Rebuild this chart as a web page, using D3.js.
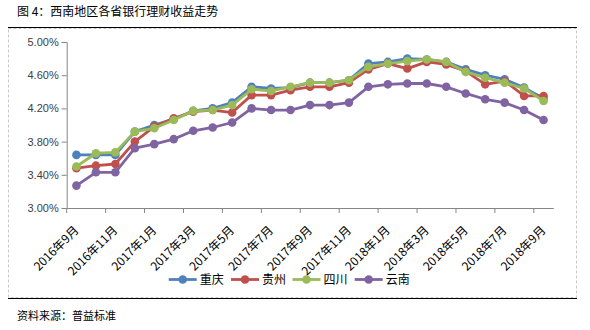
<!DOCTYPE html>
<html><head><meta charset="utf-8">
<script src="https://cdn.jsdelivr.net/npm/d3@7/dist/d3.min.js"></script>
<style>body{margin:0;background:#fff}svg{display:block}</style>
</head><body><svg id="c" width="590" height="330"></svg>
<script>
const months = ["2016年9月","2016年10月","2016年11月","2016年12月","2017年1月","2017年2月","2017年3月","2017年4月","2017年5月","2017年6月","2017年7月","2017年8月","2017年9月","2017年10月","2017年11月","2017年12月","2018年1月","2018年2月","2018年3月","2018年4月","2018年5月","2018年6月","2018年7月","2018年8月","2018年9月"];
const chongqing = [3.64,3.64,3.64,3.92,4.00,4.07,4.17,4.20,4.27,4.46,4.44,4.45,4.51,4.51,4.54,4.74,4.76,4.80,4.79,4.76,4.67,4.60,4.55,4.45,4.32];
const guizhou   = [3.48,3.51,3.53,3.80,3.98,4.08,4.16,4.18,4.15,4.36,4.36,4.42,4.46,4.46,4.51,4.67,4.74,4.68,4.76,4.73,4.65,4.49,4.53,4.35,4.35];
const sichuan   = [3.50,3.66,3.67,3.92,3.96,4.06,4.17,4.18,4.24,4.43,4.41,4.46,4.51,4.51,4.54,4.70,4.74,4.77,4.79,4.76,4.64,4.57,4.51,4.44,4.29];
const yunnan    = [3.27,3.43,3.43,3.72,3.77,3.83,3.93,3.97,4.03,4.20,4.18,4.18,4.24,4.24,4.27,4.46,4.49,4.50,4.50,4.46,4.38,4.31,4.27,4.18,4.06];
const seriesNames = ["重庆","贵州","四川","云南"];
const yTicks = [3.00,3.40,3.80,4.20,4.60,5.00];

const colors = ["#4F81BD","#C0504D","#9BBB59","#8064A2"];
const series = [chongqing, guizhou, sichuan, yunnan];
const svg = d3.select("#c");
const cjk = "'Noto Sans CJK SC', sans-serif";
const num = "'Liberation Sans', Arial, sans-serif";

// title
svg.append("text").attr("x",17).attr("y",16).attr("font-family",cjk).attr("font-size",12).attr("fill","#000").text("图 4：西南地区各省银行理财收益走势");
svg.append("line").attr("x1",8).attr("x2",577).attr("y1",27.5).attr("y2",27.5).attr("stroke","#000").attr("stroke-width",1.2);
// chart border (dashed)
svg.append("rect").attr("x",8.5).attr("y",28.5).attr("width",568).attr("height",269).attr("fill","none").attr("stroke","#c8c8c8").attr("stroke-dasharray","3,2");
svg.append("line").attr("x1",8).attr("x2",577).attr("y1",298.5).attr("y2",298.5).attr("stroke","#000").attr("stroke-width",1.2);
// source
svg.append("text").attr("x",17).attr("y",320).attr("font-family",cjk).attr("font-size",11).attr("fill","#000").text("资料来源：普益标准");

const mLeft = 66.7, mRight = 553.3, mTop = 42, mBottom = 208;
const x = d3.scaleBand().domain(months).range([mLeft, mRight]).padding(0);
const y = d3.scaleLinear().domain([3.0, 5.0]).range([mBottom, mTop]);

// y axis
const ya = svg.append("g").attr("transform",`translate(${mLeft},0)`)
  .call(d3.axisLeft(y).tickValues(yTicks).tickSize(5).tickPadding(3).tickFormat(d => d.toFixed(2)+"%"));
ya.select(".domain").attr("stroke","#868686");
ya.selectAll(".tick line").attr("stroke","#868686");
ya.selectAll("text").attr("font-family",num).attr("font-size",11).attr("fill","#404040");

// x axis
const xa = svg.append("g").attr("transform",`translate(0,${mBottom})`)
  .call(d3.axisBottom(x).tickSize(0).tickFormat(""));
xa.select(".domain").attr("stroke","#868686");
xa.selectAll(".tick").remove();
const tickCats = months.filter((d,i) => i % 2 === 0);
svg.append("g").selectAll("line").data(tickCats).join("line")
  .attr("x1", d => x(d)).attr("x2", d => x(d))
  .attr("y1", mBottom).attr("y2", mBottom + 5).attr("stroke","#868686");
svg.append("g").selectAll("text").data(tickCats).join("text")
  .attr("transform", d => `translate(${x(d) + x.bandwidth()/2},${mBottom + 20}) rotate(-45)`)
  .attr("text-anchor","end").attr("dy","0.35em")
  .attr("font-family",cjk).attr("font-size",12).attr("fill","#000").text(d => d);

// series
const line = d3.line().x((d,i) => x(months[i]) + x.bandwidth()/2).y(d => y(d));
series.forEach((s, k) => {
  const g = svg.append("g");
  g.append("path").datum(s).attr("d", line).attr("fill","none").attr("stroke",colors[k]).attr("stroke-width",2.8).attr("stroke-linejoin","round");
  g.selectAll("circle").data(s).join("circle")
    .attr("cx",(d,i) => x(months[i]) + x.bandwidth()/2).attr("cy", d => y(d)).attr("r",4.3).attr("fill",colors[k]);
});

// legend
const legX = [168.7, 231, 292.5, 354.7];
const lg = svg.append("g");
seriesNames.forEach((n,k) => {
  const lx = legX[k], ly = 279.5;
  lg.append("line").attr("x1",lx).attr("x2",lx+28).attr("y1",ly).attr("y2",ly).attr("stroke",colors[k]).attr("stroke-width",2.8);
  lg.append("circle").attr("cx",lx+14).attr("cy",ly).attr("r",4.3).attr("fill",colors[k]);
  lg.append("text").attr("x",lx+31).attr("y",ly).attr("dy","0.36em").attr("font-family",cjk).attr("font-size",12).attr("fill","#000").text(n);
});
</script></body></html>
